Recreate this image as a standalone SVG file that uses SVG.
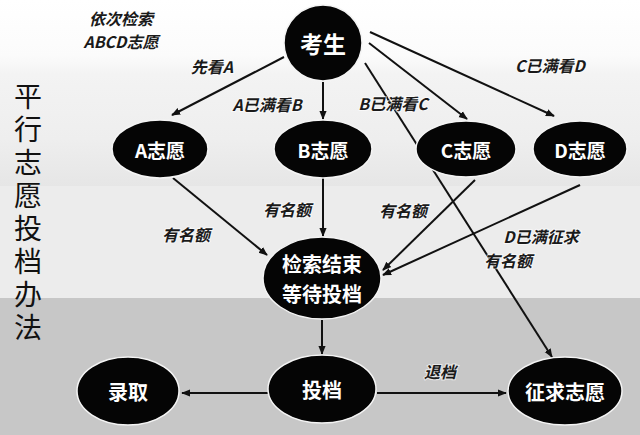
<svg xmlns="http://www.w3.org/2000/svg" width="640" height="435" viewBox="0 0 640 435">
<defs>
<marker id="ah" viewBox="0 0 10 10" refX="9" refY="5" markerWidth="9" markerHeight="9" markerUnits="userSpaceOnUse" orient="auto">
<path d="M0,1 L10,5 L0,9 Z" fill="#111"/>
</marker>
<linearGradient id="bgTop" x1="0" y1="0" x2="0" y2="1">
<stop offset="0" stop-color="#ffffff"/>
<stop offset="0.3" stop-color="#fbfbfb"/>
<stop offset="0.4" stop-color="#f3f3f3"/>
<stop offset="0.75" stop-color="#eeeeee"/>
<stop offset="1" stop-color="#e6e6e6"/>
</linearGradient>
</defs>
<style>
.node ellipse{fill:#050505;stroke:#f4f4f4;stroke-width:1.5}
.node text{fill:#fff;font-family:"Noto Sans CJK SC","Liberation Sans",sans-serif;font-weight:700;text-anchor:middle;dominant-baseline:central}
.lbl{fill:#1a1a1a;font-family:"Noto Sans CJK SC","Liberation Sans",sans-serif;font-weight:700;font-style:italic;font-size:16px;text-anchor:middle;dominant-baseline:central;stroke:#ffffff;stroke-width:2;stroke-opacity:0.6;paint-order:stroke}
.title{fill:#111;font-family:"Noto Sans CJK SC",sans-serif;font-size:28px;font-weight:400;writing-mode:vertical-rl;letter-spacing:5px}
#connectors line{stroke:#111;stroke-width:2;marker-end:url(#ah)}
</style>
<rect x="0" y="0" width="640" height="186" fill="url(#bgTop)"/>
<rect x="0" y="186" width="640" height="112" fill="#ececec"/>
<rect x="0" y="298" width="640" height="137" fill="#c7c7c7"/>

<g id="title">
<text class="title" x="28" y="82">平行志愿投档办法</text>
</g>

<g id="connectors">
<line x1="284" y1="57" x2="172" y2="115"/>
<line x1="323" y1="82" x2="323" y2="119"/>
<line x1="369" y1="43" x2="467" y2="119"/>
<line x1="370" y1="32" x2="554" y2="116"/>
<line x1="365" y1="63" x2="552" y2="357"/>
<line x1="173" y1="178" x2="267" y2="255"/>
<line x1="323" y1="178" x2="323" y2="236"/>
<line x1="475" y1="180" x2="383" y2="270"/>
<line x1="580" y1="185" x2="383" y2="275"/>
<line x1="322" y1="320" x2="322" y2="354"/>
<line x1="268" y1="393" x2="182" y2="393"/>
<line x1="377" y1="393" x2="506" y2="393"/>
</g>

<g id="labels">
<text class="lbl" x="121" y="18">依次检索</text>
<text class="lbl" x="121" y="41">ABCD志愿</text>
<text class="lbl" x="212" y="66">先看A</text>
<text class="lbl" x="267" y="104">A已满看B</text>
<text class="lbl" x="393" y="103">B已满看C</text>
<text class="lbl" x="550" y="65">C已满看D</text>
<text class="lbl" x="186" y="234">有名额</text>
<text class="lbl" x="287" y="209">有名额</text>
<text class="lbl" x="403" y="210">有名额</text>
<text class="lbl" x="541" y="236">D已满征求</text>
<text class="lbl" x="508" y="260">有名额</text>
<text class="lbl" x="440" y="371">退档</text>
</g>

<g id="node-kaosheng" class="node"><ellipse cx="323" cy="43" rx="39" ry="38"/><text x="323" y="43" font-size="23">考生</text></g>
<g id="node-a" class="node"><ellipse cx="160" cy="149" rx="48" ry="29"/><text x="160" y="149" font-size="19">A志愿</text></g>
<g id="node-b" class="node"><ellipse cx="323" cy="149" rx="49" ry="29"/><text x="323" y="149" font-size="19">B志愿</text></g>
<g id="node-c" class="node"><ellipse cx="466" cy="149" rx="50" ry="28"/><text x="466" y="149" font-size="19">C志愿</text></g>
<g id="node-d" class="node"><ellipse cx="580" cy="149" rx="47" ry="28"/><text x="580" y="149" font-size="19">D志愿</text></g>
<g id="node-jiansuo" class="node"><ellipse cx="322" cy="278" rx="59" ry="41"/><text x="322" y="263" font-size="20"><tspan x="322" y="263">检索结束</tspan><tspan x="322" y="293">等待投档</tspan></text></g>
<g id="node-luqu" class="node"><ellipse cx="128" cy="391" rx="51" ry="34"/><text x="128" y="391" font-size="20">录取</text></g>
<g id="node-toudang" class="node"><ellipse cx="322" cy="389" rx="54" ry="34"/><text x="322" y="389" font-size="20">投档</text></g>
<g id="node-zhengqiu" class="node"><ellipse cx="565" cy="391" rx="57" ry="34"/><text x="565" y="391" font-size="20">征求志愿</text></g>
</svg>
